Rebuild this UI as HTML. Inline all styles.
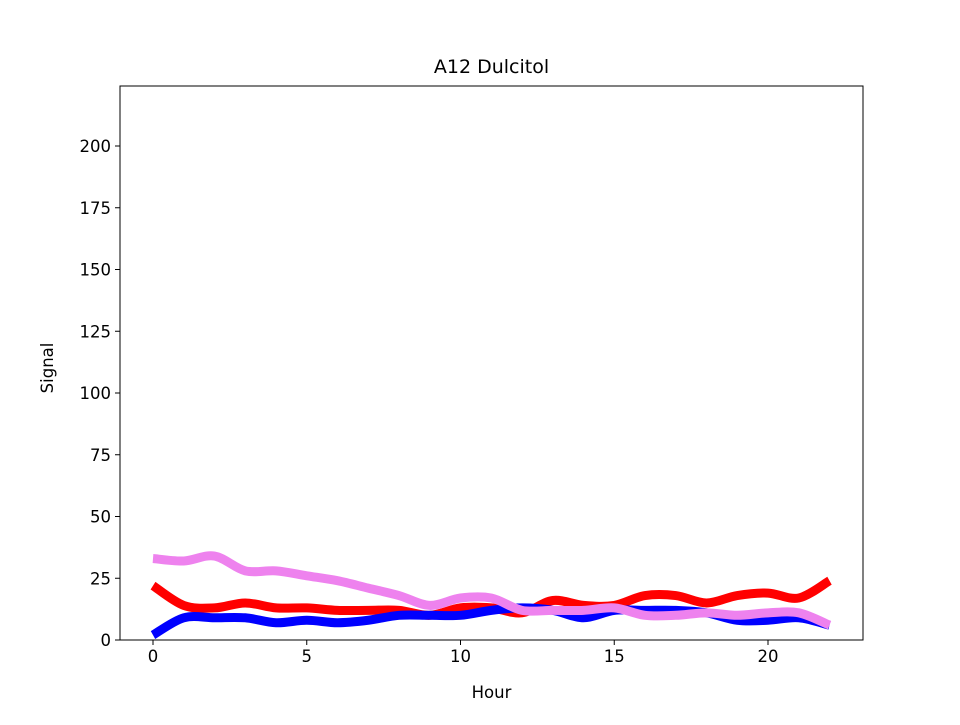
<!DOCTYPE html>
<html><head><meta charset="utf-8"><style>
body{margin:0;background:#fff;}
svg text{font-family:"DejaVu Sans","Liberation Sans",sans-serif;fill:#000;}
</style></head><body>
<svg id="chart" width="960" height="720" viewBox="0 0 960 720">
<rect width="960" height="720" fill="#fff"/>
<text x="491.5" y="73" font-size="19" text-anchor="middle">A12 Dulcitol</text>
<g id="plot"></g>
<g id="axes"></g>
<text x="491.5" y="698" font-size="16.5" text-anchor="middle">Hour</text>
<text x="53" y="368" font-size="16.5" text-anchor="middle" transform="rotate(-90 53 368)">Signal</text>
</svg>
<script>
const hours=[0,1,2,3,4,5,6,7,8,9,10,11,12,13,14,15,16,17,18,19,20,21,22];
const redValues=[22,14,13,15,13,13,12,12,12,10,13,13,11,16,14,14,18,18,15,18,19,17,24];
const blueValues=[2,9,9,9,7,8,7,8,10,10,10,12,13,12,9,12,12,12,11,8,8,9,6];
const violetValues=[33,32,34,28,28,26,24,21,18,14,17,17,12,12,12,13,10,10,11,10,11,11,6];
const xTicks=[0,5,10,15,20];
const yTicks=[0,25,50,75,100,125,150,175,200];
const L=120,R=863,T=86,B=640;
const xs=v=>153+v*30.75;
const ys=v=>640-v*2.47;
const NS="http://www.w3.org/2000/svg";
const plot=document.getElementById('plot');
const axes=document.getElementById('axes');
function mk(t,a,p){const e=document.createElementNS(NS,t);for(const k in a)e.setAttribute(k,a[k]);p.appendChild(e);return e;}
function pathFor(vals){
  const p=hours.map((h,i)=>[xs(h),ys(vals[i])]);
  let d='M'+p[0][0]+','+p[0][1];
  for(let i=0;i<p.length-1;i++){
    const p0=p[i-1]||p[i],p1=p[i],p2=p[i+1],p3=p[i+2]||p[i+1];
    const c1=[p1[0]+(p2[0]-p0[0])/6,p1[1]+(p2[1]-p0[1])/6];
    const c2=[p2[0]-(p3[0]-p1[0])/6,p2[1]-(p3[1]-p1[1])/6];
    d+=` C${c1[0]},${c1[1]} ${c2[0]},${c2[1]} ${p2[0]},${p2[1]}`;
  }
  return d;
}
const series=[[redValues,'#ff0000','red-line'],[blueValues,'#0000ff','blue-line'],[violetValues,'#ee82ee','violet-line']];
series.forEach(s=>{
  const e=mk('path',{d:pathFor(s[0]),fill:'none',stroke:s[1],'stroke-width':9},plot);
  
  
});
const frame=mk('rect',{x:L,y:T,width:R-L,height:B-T,fill:'none',stroke:'#000','stroke-width':1},axes);


xTicks.forEach(t=>{
  const x=xs(t);
  const l=mk('line',{x1:x,x2:x,y1:B,y2:B+5,stroke:'#000'},axes);
  
  
  const tx=mk('text',{x:x,y:B+22,'font-size':16.5,'text-anchor':'middle'},axes);
  tx.textContent=t;
  
  
});
yTicks.forEach(t=>{
  const y=ys(t);
  const l=mk('line',{x1:L-5,x2:L,y1:y,y2:y,stroke:'#000'},axes);
  
  
  const tx=mk('text',{x:L-9,y:y+6,'font-size':16.5,'text-anchor':'end'},axes);
  tx.textContent=t;
  
  
});
</script>
</body></html>
